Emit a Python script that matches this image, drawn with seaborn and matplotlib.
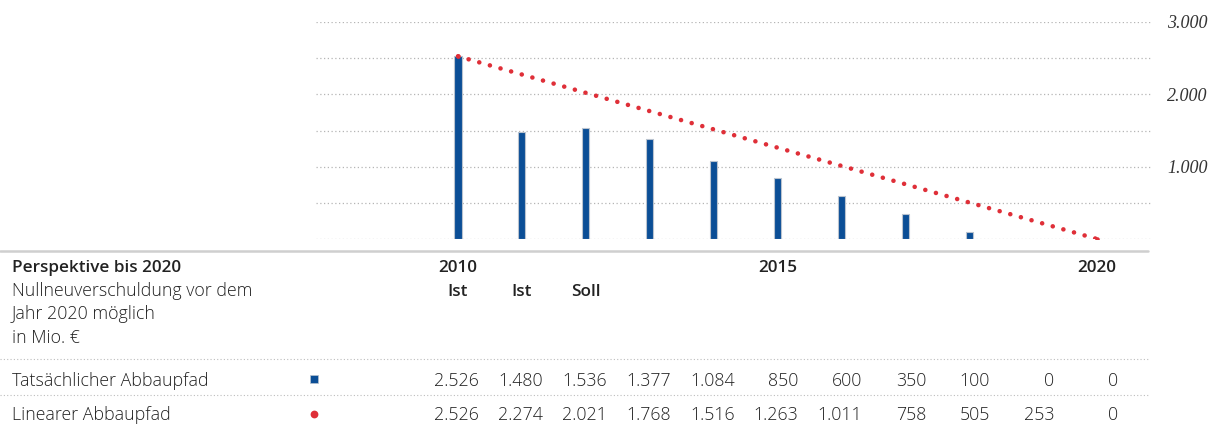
import numpy as np
import pandas as pd
import matplotlib
matplotlib.use("Agg")
import matplotlib.pyplot as plt
import matplotlib.transforms as mtrans
from matplotlib.lines import Line2D
import seaborn as sns

# ---------------- data ----------------
years = [2010, 2011, 2012, 2013, 2014, 2015, 2016, 2017, 2018, 2019, 2020]
actual = [2526, 1480, 1536, 1377, 1084, 850, 600, 350, 100, 0, 0]
linear = [2526, 2274, 2021, 1768, 1516, 1263, 1011, 758, 505, 253, 0]
header_years = [2010, 2015, 2020]
sub_labels = ["Ist", "Ist", "Soll"]
y_ticks = [0, 500, 1000, 1500, 2000, 2500, 3000]
y_labeled = [1000, 2000, 3000]
title = "Perspektive bis 2020"
subtitle = ["Nullneuverschuldung vor dem", "Jahr 2020 möglich", "in Mio. €"]
row_names = ["Tatsächlicher Abbaupfad", "Linearer Abbaupfad"]

BLUE = "#0b4e96"
RED = "#df2f38"
TXT = "#222222"
GRID = "#b5b5b5"

sns.set_theme(style="white")
plt.rcParams["font.family"] = ["Open Sans", "DejaVu Sans"]

W, H = 1214, 425
fig = plt.figure(figsize=(W / 100, H / 100), dpi=100)
fig.patch.set_facecolor("white")

def fx(px):
    return px / W

def fy(py):
    return 1 - py / H

ax = fig.add_axes([fx(316), fy(239), fx(1151) - fx(316), fy(22) - fy(239)])
ax.set_facecolor("white")

df = pd.DataFrame({"year": years, "actual": actual, "linear": linear})
bars = df[df["actual"] > 0]

sns.barplot(data=bars, x="year", y="actual", native_scale=True, width=0.11,
            color=BLUE, saturation=1, edgecolor="#b9c3cf", linewidth=0.8, ax=ax,
            errorbar=None, zorder=3)
n_before = len(ax.lines)
sns.lineplot(data=df, x="year", y="linear", color=RED, linewidth=3.3,
             ax=ax, zorder=4)
for ln in ax.lines[n_before:]:
    ln.set_linestyle((0, (0.01, 2.4)))
    ln.set_dash_capstyle("round")
    ln.set_solid_capstyle("round")
    ln.set_marker("o")
    ln.set_markersize(3.3)
    ln.set_markeredgewidth(0)
    ln.set_markerfacecolor(RED)
    npts = len(ln.get_xdata())
    ln.set_markevery([0, npts - 1])

x0 = 2010 - (458 - 316) / 63.9
x1 = 2020 + (1151 - 1097) / 63.9
ax.set_xlim(x0, x1)
ax.set_ylim(0, 3000)
ax.set_yticks(y_ticks)
ax.set_yticklabels([f"{v:,}".replace(",", ".") if v in y_labeled else "" for v in y_ticks])
ax.yaxis.tick_right()
ax.tick_params(axis="y", length=0, pad=11.5, labelsize=13, labelcolor="#333333")
for lab in ax.get_yticklabels():
    lab.set_family(["Liberation Serif", "DejaVu Serif"])
    lab.set_style("italic")
ax.set_xticks([])
ax.set_xlabel("")
ax.set_ylabel("")
ax.grid(axis="y", color=GRID, linestyle=(0, (1, 2)), linewidth=0.9, zorder=0)
ax.grid(axis="x", visible=False)
for s in ax.spines.values():
    s.set_visible(False)

# ---------------- table ----------------
fig.add_artist(Line2D([0, fx(1148)], [fy(251), fy(251)], color="#cfcfcf", lw=1.8))
for py in (359, 395):
    fig.add_artist(Line2D([0, fx(1148)], [fy(py), fy(py)], color="#bdbdbd",
                          lw=0.8, linestyle=(0, (1, 2))))

fs_b = 12.3
fs = 12.8
LW = 300
fig.text(fx(12), fy(272), title, fontsize=fs_b, fontweight="semibold", color=TXT,
         va="baseline", ha="left")
for i, line in enumerate(subtitle):
    fig.text(fx(12), fy(296 + 23.3 * i), line, fontsize=fs, fontweight=LW,
             color=TXT, va="baseline", ha="left")

blend = mtrans.blended_transform_factory(ax.transData, fig.transFigure)
for yr in header_years:
    ax.text(yr, fy(272), str(yr), transform=blend, ha="center", va="baseline",
            fontsize=fs_b, fontweight="semibold", color=TXT)
for yr, lab in zip(years, sub_labels):
    ax.text(yr, fy(296), lab, transform=blend, ha="center", va="baseline",
            fontsize=fs_b, fontweight="semibold", color=TXT)

num_tr = mtrans.offset_copy(blend, fig=fig, x=21, y=0, units="dots")
row_base = [386, 420]
for name, vals, base in zip(row_names, [actual, linear], row_base):
    fig.text(fx(12), fy(base), name, fontsize=fs, fontweight=LW,
             color=TXT, va="baseline", ha="left")
    for yr, v in zip(years, vals):
        ax.text(yr, fy(base), f"{v:,}".replace(",", "."), transform=num_tr,
                ha="right", va="baseline", fontsize=fs, fontweight=LW,
                color=TXT)

fig.add_artist(Line2D([fx(314)], [fy(379)], marker="s", markersize=5.2,
                      color=BLUE, markeredgecolor="#b9c3cf", markeredgewidth=0.5,
                      linestyle="none"))
fig.add_artist(Line2D([fx(314)], [fy(414)], marker="o", markersize=5.6,
                      color=RED, markeredgewidth=0, linestyle="none"))

fig.savefig("out.png", dpi=100, facecolor="white")
